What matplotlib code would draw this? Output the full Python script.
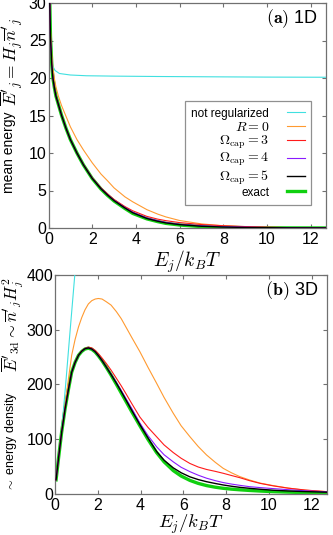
import matplotlib
matplotlib.use("Agg")
import matplotlib.pyplot as plt

plt.rcParams['font.family'] = ['Liberation Sans', 'DejaVu Sans']
plt.rcParams['mathtext.fontset'] = 'cm'

# ---------------- data: panel (a) 1D ----------------
x1d = [0.01, 0.03, 0.06, 0.09, 0.15, 0.2, 0.27, 0.34, 0.45, 0.6, 0.8, 1.0, 1.3, 1.6, 2.0,
       2.4, 2.7, 3.0, 3.5, 3.85, 4.5, 5.0, 5.37, 6.0, 7.0, 8.0, 9.0, 10.0, 11.0, 12.7]
exact1d = [50, 36, 30, 25.5, 21.8, 20, 18.7, 17.6, 16.5, 15, 13.3, 11.8, 10, 8.4, 6.6,
           5.2, 4.35, 3.6, 2.6, 1.95, 1.22, 0.85, 0.62, 0.4, 0.19, 0.09, 0.045, 0.022, 0.011, 0.004]
black1d = [50, 36, 30, 25.5, 21.8, 20, 18.7, 17.6, 16.5, 15, 13.3, 11.8, 10, 8.41, 6.62,
           5.24, 4.4, 3.65, 2.66, 2.04, 1.27, 0.9, 0.68, 0.45, 0.23, 0.13, 0.07, 0.04, 0.02, 0.01]
purple1d = [50, 36, 30, 25.5, 21.8, 20, 18.7, 17.6, 16.5, 15, 13.3, 11.8, 10, 8.42, 6.65,
            5.28, 4.45, 3.7, 2.72, 2.12, 1.35, 0.98, 0.75, 0.5, 0.29, 0.18, 0.11, 0.07, 0.04, 0.015]
red1d = [50, 36, 30, 25.5, 21.8, 20, 18.7, 17.6, 16.5, 15, 13.3, 11.8, 10, 8.45, 6.7,
         5.35, 4.55, 3.8, 2.85, 2.3, 1.55, 1.18, 0.98, 0.72, 0.46, 0.3, 0.19, 0.11, 0.05, 0.02]
orange1d = [50, 38, 30.5, 26.5, 23, 21.3, 19.9, 18.8, 17.6, 16.3, 14.9, 13.5, 11.8, 10.4, 8.7,
            7.2, 6.3, 5.35, 4.15, 3.5, 2.45, 1.85, 1.48, 1.0, 0.55, 0.3, 0.16, 0.085, 0.045, 0.015]
xcyan1d = [0.01, 0.03, 0.06, 0.09, 0.13, 0.19, 0.3, 0.5, 1.0, 1.73, 3.0, 5.0, 8.0, 10.0, 12.7]
cyan1d = [50, 36, 30, 25.5, 22.9, 21.6, 21.0, 20.6, 20.4, 20.3, 20.25, 20.2, 20.15, 20.12, 20.1]

# ---------------- data: panel (b) 3D ----------------
x3d = [0.05, 0.16, 0.31, 0.47, 0.63, 0.78, 0.94, 1.1, 1.25, 1.4, 1.56, 1.72, 1.88, 2.03,
       2.2, 2.4, 2.62, 2.87, 3.1, 3.3, 3.6, 3.97, 4.35, 4.75, 5.1, 5.53, 5.9, 6.31, 6.7,
       7.09, 7.5, 7.87, 8.25, 8.64, 9.1, 9.6, 10.2, 10.9, 11.7, 12.7]
exact3d = [25, 63, 112, 155, 191, 222, 240, 253, 260, 264.5, 266, 264, 259, 252,
           243, 231, 217, 200, 184, 170, 149, 124, 99, 75, 58, 42, 32, 24, 18.5,
           14.5, 11.5, 9.5, 8, 6.8, 5.6, 4.5, 3.4, 2.5, 1.7, 1.0]
black3d = [25, 63, 112, 155, 191, 222, 240, 253, 260.5, 265, 266.5, 264.5, 259.5, 252.5,
           243.5, 231.5, 218, 202, 186.5, 172.5, 151.5, 126, 101.5, 77, 61, 47, 38, 30.5, 25.5,
           21.6, 18.3, 15.6, 13.3, 11.3, 9.5, 7.8, 6, 4.6, 3.5, 2.4]
purple3d = [25, 63, 112, 155, 191, 222, 240, 253, 260.5, 265, 266.5, 264.5, 259.5, 252.5,
            243.5, 231.5, 218.5, 203.5, 188.5, 175, 155, 129, 106, 85.7, 71, 58, 48, 40, 33.5,
            28, 23.5, 20, 17.3, 15, 12.5, 10.8, 9, 7, 5, 3]
red3d = [25, 63, 112, 155, 191, 222, 240.5, 253.5, 261, 265.5, 268, 266.5, 262, 256,
         248, 238, 226, 211, 197, 184, 164, 140, 121, 104, 89, 75, 64.5, 55, 48.5,
         44, 40.5, 37, 33, 29, 23.5, 18.5, 14, 9.8, 6.4, 3.3]
orange3d = [25, 63, 114, 162, 210, 253, 282, 305, 322, 336, 347, 353, 356, 357,
            356, 351, 345, 333, 320, 306, 285, 259.6, 231, 202, 176, 147, 124, 104, 86,
            70.5, 57, 46, 38, 31, 24.7, 19, 14.5, 10, 6, 3.5]
xcyan3d = [0.05, 0.16, 0.31, 0.5, 0.7, 0.9, 1.0, 1.1]
cyan3d = [25, 63, 115, 200, 295, 388, 435, 480]

labels = ['not regularized', r'$R=0$', r'$\Omega_{\rm cap}=3$',
          r'$\Omega_{\rm cap}=4$', r'$\Omega_{\rm cap}=5$', 'exact']

c_cyan = '#40e0e0'
c_orange = '#ff9a30'
c_red = '#ff1a1a'
c_purple = '#8a1aff'
c_black = '#000000'
c_green = '#10d010'
spine_c = '#707070'

W, H = 333, 535
fig = plt.figure(figsize=(W/100, H/100), dpi=100)
ax1 = fig.add_axes([48.5/W, (H-228)/H, 277.5/W, 225/H])
ax2 = fig.add_axes([55/W, (H-493.5)/H, 271.5/W, 218.5/H])

def style(ax):
    for s in ax.spines.values():
        s.set_color(spine_c)
        s.set_linewidth(0.9)
    ax.tick_params(direction='in', top=True, right=True, length=3,
                   color=spine_c, labelsize=11.5)
    ax.tick_params(axis='y', pad=1.5)
    ax.tick_params(axis='x', pad=3)
    ax.set_xlim(0, 12.7)
    ax.set_xticks([0, 2, 4, 6, 8, 10, 12])

# panel a
ax1.plot(x1d, exact1d, color=c_green, lw=2.4, label=labels[5], zorder=2)
ax1.plot(xcyan1d, cyan1d, color=c_cyan, lw=0.8, label=labels[0], zorder=3)
ax1.plot(x1d, orange1d, color=c_orange, lw=0.8, label=labels[1], zorder=3)
ax1.plot(x1d, red1d, color=c_red, lw=0.8, label=labels[2], zorder=3)
ax1.plot(x1d, purple1d, color=c_purple, lw=0.8, label=labels[3], zorder=4)
ax1.plot(x1d, black1d, color=c_black, lw=1.0, label=labels[4], zorder=5)
style(ax1)
ax1.set_ylim(0, 30)
ax1.set_yticks([0, 5, 10, 15, 20, 25, 30])
ax1.set_xlabel(r'$E_j/k_BT$', fontsize=14, labelpad=1)
ax1.text(0.97, 0.93, r'$\mathbf{(a)}$ 1D', transform=ax1.transAxes,
         ha='right', va='center', fontsize=13)

h, l = ax1.get_legend_handles_labels()
order = [l.index(x) for x in labels]
leg = ax1.legend([h[i] for i in order], [l[i] for i in order],
                 loc='lower right', bbox_to_anchor=(0.946, 0.102), borderaxespad=0,
                 markerfirst=False, fancybox=False, framealpha=1, edgecolor='#909090',
                 fontsize=8.5, handlelength=1.5, labelspacing=0.0, borderpad=0.55,
                 handletextpad=1.5)
leg.get_frame().set_linewidth(0.9)
for t in leg.get_texts():
    if t.get_text().startswith('$'):
        t.set_fontsize(10)

# panel b
ax2.plot(x3d, exact3d, color=c_green, lw=2.4, zorder=2)
ax2.plot(xcyan3d, cyan3d, color=c_cyan, lw=0.8, zorder=3)
ax2.plot(x3d, orange3d, color=c_orange, lw=0.8, zorder=3)
ax2.plot(x3d, red3d, color=c_red, lw=0.8, zorder=3)
ax2.plot(x3d, purple3d, color=c_purple, lw=0.8, zorder=4)
ax2.plot(x3d, black3d, color=c_black, lw=1.0, zorder=5)
style(ax2)
ax2.set_ylim(0, 400)
ax2.set_yticks([0, 100, 200, 300, 400])
ax2.set_xlabel(r'$E_j/k_BT$', fontsize=13.5, labelpad=0)
ax2.text(0.97, 0.93, r'$\mathbf{(b)}$ 3D', transform=ax2.transAxes,
         ha='right', va='center', fontsize=13)

# y labels, built from a text part and a larger math part
fig.text(9/W, (H-193)/H, 'mean energy', rotation=90, ha='center', va='bottom', fontsize=10)
fig.text(12/W, (H-18)/H, r"$\overline{E}'_j = H_j\overline{n}'_j$", rotation=90,
         ha='center', va='top', fontsize=12.5)
fig.text(11/W, (H-492)/H, r'$\sim$ energy density', rotation=90, ha='center',
         va='bottom', fontsize=9)
fig.text(12.5/W, (H-277)/H, r"$\overline{E}'_{\rm 3d}\sim\overline{n}'_jH_j^2$", rotation=90,
         ha='center', va='top', fontsize=12)

fig.savefig('out.png', dpi=100)
